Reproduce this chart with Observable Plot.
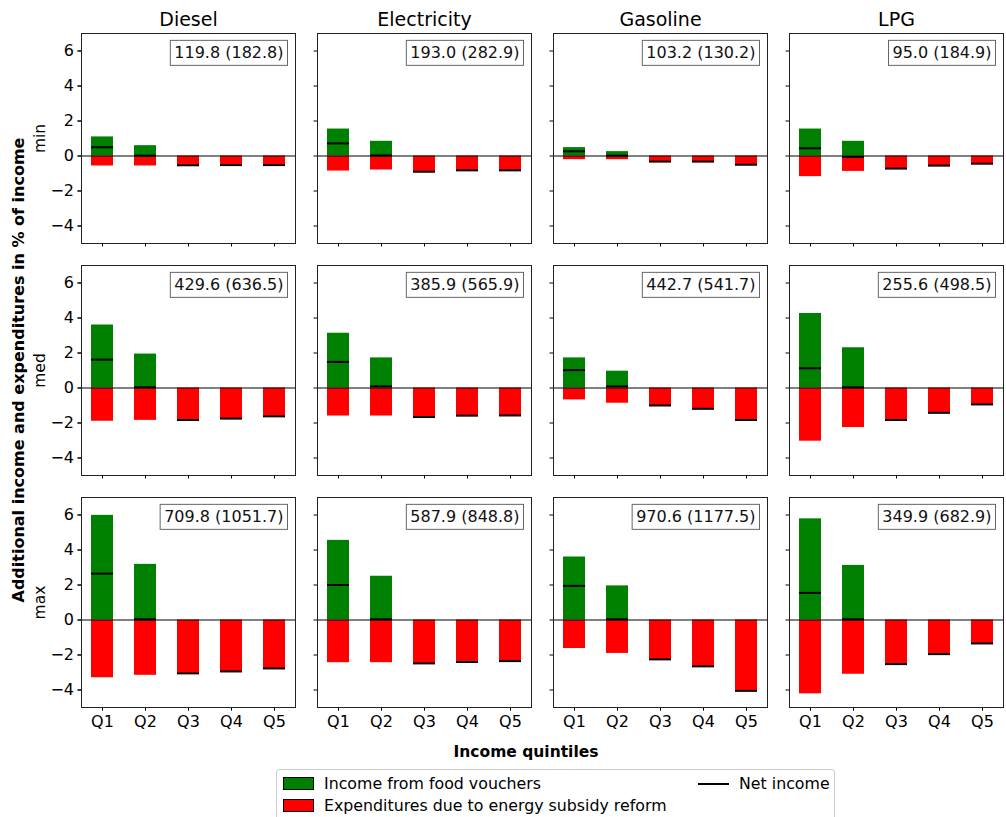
<!DOCTYPE html>
<html><head><meta charset="utf-8">
<script src="https://cdn.jsdelivr.net/npm/d3@7"></script>
<script src="https://cdn.jsdelivr.net/npm/@observablehq/plot@0.6"></script>
<style>
body{margin:0;background:#fff;font-family:"DejaVu Sans",sans-serif;color:#000;}
#wrap{position:relative;width:1006px;height:817px;overflow:hidden;}
#wrap svg{position:absolute;left:0;top:0;}
.ylab{position:absolute;left:18px;top:370px;transform:translate(-50%,-50%) rotate(-90deg);white-space:nowrap;font-weight:bold;font-size:16px;}
.xlab{position:absolute;left:526px;top:752px;transform:translate(-50%,-50%);white-space:nowrap;font-weight:bold;font-size:15.5px;}
.legend{position:absolute;left:276px;top:769px;width:559px;height:60px;border:1px solid #ccc;border-radius:3px;box-sizing:border-box;font-size:15.8px;}
.li{position:absolute;display:flex;align-items:center;white-space:nowrap;}
.sw{width:31px;height:13px;border:1px solid #000;box-sizing:border-box;margin-right:10px;}
.ln{width:31px;height:0;border-top:2px solid #000;margin-right:10px;}
</style></head><body><div id="wrap"></div>
<script>
const fuels = ["Diesel", "Electricity", "Gasoline", "LPG"];
const scenarios = ["min", "med", "max"];
const quintiles = ["Q1", "Q2", "Q3", "Q4", "Q5"];

// Income from food vouchers (rows: Diesel, Electricity, Gasoline, LPG; cols: Q1..Q5)
const vouchersMin = [[1.09,0.59,0,0,0],[1.54,0.84,0,0,0],[0.48,0.25,0,0,0],[1.54,0.84,0,0,0]];
const vouchersMed = [[3.60,1.94,0,0,0],[3.13,1.72,0,0,0],[1.72,0.96,0,0,0],[4.26,2.30,0,0,0]];
const vouchersMax = [[5.98,3.18,0,0,0],[4.55,2.50,0,0,0],[3.60,1.95,0,0,0],[5.78,3.12,0,0,0]];

// Expenditures due to energy subsidy reform
const expendMin = [[-0.57,-0.57,-0.53,-0.52,-0.52],[-0.86,-0.80,-0.90,-0.82,-0.82],[-0.21,-0.21,-0.32,-0.32,-0.50],[-1.18,-0.88,-0.72,-0.55,-0.44]];
const expendMed = [[-1.90,-1.85,-1.83,-1.75,-1.62],[-1.60,-1.60,-1.66,-1.58,-1.57],[-0.68,-0.87,-1.00,-1.19,-1.83],[-3.04,-2.26,-1.83,-1.42,-0.94]];
const expendMax = [[-3.30,-3.16,-3.05,-2.94,-2.77],[-2.44,-2.44,-2.48,-2.40,-2.35],[-1.63,-1.91,-2.25,-2.65,-4.05],[-4.22,-3.10,-2.52,-1.95,-1.34]];

// Net income
const netMin = [[0.50,0.02,-0.53,-0.52,-0.52],[0.72,0.03,-0.90,-0.82,-0.82],[0.27,0.02,-0.32,-0.32,-0.50],[0.44,-0.05,-0.72,-0.55,-0.44]];
const netMed = [[1.62,0.04,-1.83,-1.75,-1.62],[1.49,0.09,-1.66,-1.58,-1.57],[1.02,0.09,-1.00,-1.19,-1.83],[1.13,0.04,-1.83,-1.42,-0.94]];
const netMax = [[2.65,0.04,-3.05,-2.94,-2.77],[2.00,0.04,-2.48,-2.40,-2.35],[1.95,0.04,-2.25,-2.65,-4.05],[1.55,0.04,-2.52,-1.95,-1.34]];

// Panel annotations
const annMin = ["119.8 (182.8)", "193.0 (282.9)", "103.2 (130.2)", "95.0 (184.9)"];
const annMed = ["429.6 (636.5)", "385.9 (565.9)", "442.7 (541.7)", "255.6 (498.5)"];
const annMax = ["709.8 (1051.7)", "587.9 (848.8)", "970.6 (1177.5)", "349.9 (682.9)"];

const yTicks = [-4, -2, 0, 2, 4, 6];

const vouchers = {min: vouchersMin, med: vouchersMed, max: vouchersMax};
const expend = {min: expendMin, med: expendMed, max: expendMax};
const net = {min: netMin, med: netMed, max: netMax};
const ann = {min: annMin, med: annMed, max: annMax};

const rows = [];
const annRows = [];
scenarios.forEach(s => fuels.forEach((f, fi) => {
  quintiles.forEach((q, qi) => rows.push({scen: s, fuel: f, q, fv: vouchers[s][fi][qi], ex: expend[s][fi][qi], net: net[s][fi][qi]}));
  annRows.push({scen: s, fuel: f, text: ann[s][fi]});
}));

const plot = Plot.plot({
  width: 1006, height: 768,
  marginLeft: 79, marginRight: 1, marginTop: 31.5, marginBottom: 59.5,
  style: {fontFamily: "DejaVu Sans, sans-serif", fontSize: "16px", color: "#000", background: "white"},
  fx: {domain: fuels, paddingInner: 0.0928, paddingOuter: 0, label: null},
  fy: {domain: scenarios, paddingInner: 0.0944, paddingOuter: 0, label: null, axis: null},
  x: {domain: quintiles, paddingInner: 0.5, paddingOuter: 0.2, label: null},
  y: {domain: [-5, 7], label: null},
  marks: [
    Plot.barY(rows, {fx: "fuel", fy: "scen", x: "q", y1: 0, y2: "ex", fill: "#ff0000"}),
    Plot.barY(rows.filter(d => d.fv > 0), {fx: "fuel", fy: "scen", x: "q", y1: 0, y2: "fv", fill: "#008000"}),
    Plot.ruleY([0], {stroke: "#000", strokeWidth: 1}),
    Plot.tickY(rows, {fx: "fuel", fy: "scen", x: "q", y: "net", stroke: "#000", strokeWidth: 2}),
    Plot.axisY({ticks: yTicks, tickSize: 3.5, tickPadding: 4, label: null, fontSize: 16}),
    Plot.axisY({ticks: yTicks, tickSize: 3.5, tickFormat: () => "", label: null, facetAnchor: null}),
    Plot.axisX({tickSize: 3.5, tickPadding: 5, label: null, fontSize: 16}),
    Plot.axisX({tickSize: 3.5, tickFormat: () => "", label: null, facetAnchor: null}),
    Plot.axisFx({anchor: "top", label: null, tickSize: 0, tickPadding: 8, fontSize: 19}),
    Plot.text(scenarios, {fy: d => d, fx: () => "Diesel", text: d => d, frameAnchor: "left", textAnchor: "middle", dx: -41, rotate: -90, fontSize: 15.5}),
    Plot.text(annRows, {fx: "fuel", fy: "scen", text: "text", frameAnchor: "top-right", dx: -12, dy: 13.5, lineAnchor: "top", fontSize: 16, fill: "#111"}),
    Plot.frame({stroke: "#222"})
  ]
});

const wrap = document.getElementById("wrap");
wrap.appendChild(plot);

// boxes behind the annotation texts
plot.querySelectorAll("text").forEach(t => {
  if (/\(/.test(t.textContent)) {
    const b = t.getBBox();
    const r = document.createElementNS("http://www.w3.org/2000/svg", "rect");
    r.setAttribute("x", b.x - 4);
    r.setAttribute("y", b.y - 3);
    r.setAttribute("width", b.width + 8);
    r.setAttribute("height", b.height + 6);
    r.setAttribute("fill", "white");
    r.setAttribute("stroke", "#666");
    r.setAttribute("stroke-width", 1);
    const tr = t.getAttribute("transform");
    if (tr) r.setAttribute("transform", tr);
    t.parentNode.insertBefore(r, t);
  }
});

const html = `
<div class="ylab">Additional income and expenditures in % of income</div>
<div class="xlab">Income quintiles</div>
<div class="legend">
  <div class="li" style="left:6px;top:4px;"><div class="sw" style="background:#008000"></div>Income from food vouchers</div>
  <div class="li" style="left:6px;top:26px;"><div class="sw" style="background:#ff0000"></div>Expenditures due to energy subsidy reform</div>
  <div class="li" style="left:421px;top:4px;"><div class="ln"></div>Net income</div>
</div>`;
wrap.insertAdjacentHTML("beforeend", html);
</script>
</body></html>
